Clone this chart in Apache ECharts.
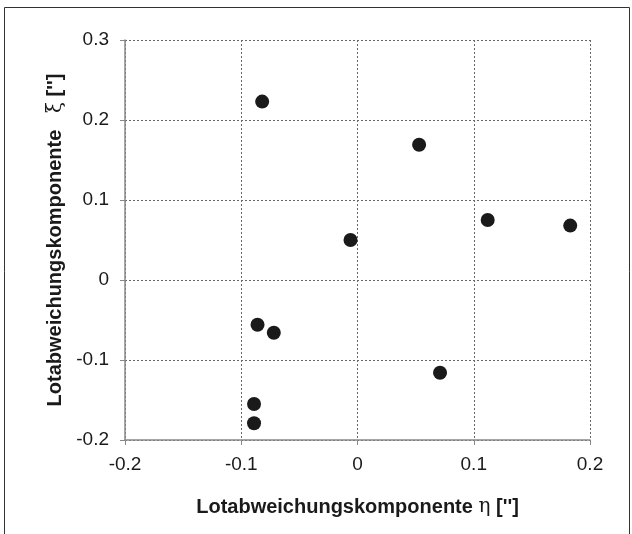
<!DOCTYPE html>
<html>
<head>
<meta charset="utf-8">
<script src="https://cdn.jsdelivr.net/npm/echarts@6/dist/echarts.min.js"></script>
<style>
  html, body { margin: 0; padding: 0; background: #fff; }
  #chart { width: 632px; height: 534px; }
</style>
</head>
<body>
<div id="chart"></div>
<script>
// Lotabweichungskomponenten
const eta = [-0.082, 0.053, 0.112, 0.183, -0.006, -0.086, -0.072, -0.089, -0.089, 0.071]
const xi = [0.223, 0.169, 0.075, 0.068, 0.050, -0.056, -0.066, -0.155, -0.179, -0.116]

const points = eta.map((v, i) => [v, xi[i]])

const chart = echarts.init(document.getElementById('chart'))

const axisLabel = {
  color: '#1a1a1a',
  fontFamily: 'Liberation Sans',
  fontSize: 19
}
const splitLine = {
  show: true,
  lineStyle: { color: '#666', type: [2, 2], width: 1 }
}
const nameStyle = {
  color: '#1a1a1a',
  fontFamily: 'Liberation Sans',
  fontWeight: 'bold',
  fontSize: 20,
  rich: {
    g: { fontFamily: 'DejaVu Serif', fontWeight: 'normal', fontSize: 20, color: '#1a1a1a' }
  }
}

chart.setOption({
  backgroundColor: '#fff',
  animation: false,
  graphic: [
    {
      type: 'rect',
      shape: { x: 4.5, y: 7.5, width: 625, height: 540 },
      style: { fill: 'none', stroke: '#333', lineWidth: 1 }
    }
  ],
  grid: {
    left: 125,
    right: 42,
    top: 40,
    bottom: 94
  },
  xAxis: {
    type: 'value',
    min: -0.2,
    max: 0.2,
    interval: 0.1,
    name: 'Lotabweichungskomponente {g|η} [\'\']',
    nameLocation: 'middle',
    nameGap: 57,
    nameTextStyle: nameStyle,
    axisLine: { show: true, onZero: false, lineStyle: { color: '#888', width: 1.5 } },
    axisTick: { show: true, length: 5, lineStyle: { color: '#888' } },
    axisLabel: Object.assign({ margin: 15 }, axisLabel),
    splitLine: splitLine
  },
  yAxis: {
    type: 'value',
    min: -0.2,
    max: 0.3,
    interval: 0.1,
    name: 'Lotabweichungskomponente   {g|ξ} [\'\']',
    nameLocation: 'middle',
    nameGap: 52,
    nameTextStyle: nameStyle,
    axisLine: { show: true, onZero: false, lineStyle: { color: '#888', width: 1.5 } },
    axisTick: { show: true, length: 5, lineStyle: { color: '#888' } },
    axisLabel: Object.assign({ margin: 16 }, axisLabel),
    splitLine: splitLine
  },
  series: [
    {
      type: 'scatter',
      data: points,
      symbol: 'circle',
      symbolSize: 14,
      itemStyle: { color: '#1a1a1a', opacity: 1 }
    }
  ]
})
</script>
</body>
</html>
